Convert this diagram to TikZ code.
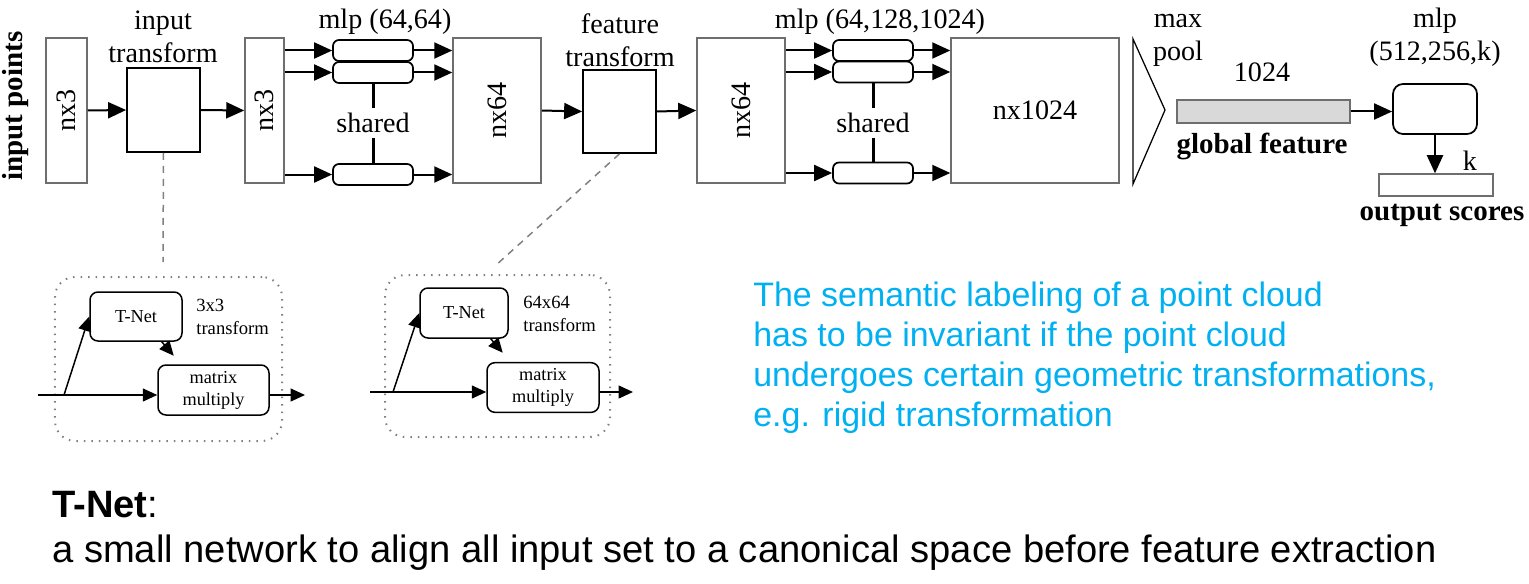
\documentclass[tikz,border=0pt]{standalone}
\usepackage{fontspec}
\setmainfont{Liberation Serif}
\newfontfamily\arialfont{Liberation Sans}
\usepackage{xcolor}
\usepackage{tikz}
\usetikzlibrary{arrows.meta, positioning, calc}

\definecolor{boxgray}{RGB}{110,110,110}
\definecolor{barfill}{RGB}{217,217,217}
\definecolor{noteblue}{RGB}{0,176,240}

\begin{document}
\begin{tikzpicture}[
    x=0.2mm, y=-0.2mm,
    lbl/.style={font=\fontsize{16}{18.8}\selectfont, align=center, inner sep=0.5mm},
    blbl/.style={font=\fontsize{16.5}{19}\selectfont\bfseries, inner sep=0.5mm},
    fbox/.style={draw=boxgray, line width=0.3mm, minimum height=29mm, inner sep=0, font=\fontsize{16}{19}\selectfont},
    tbox/.style={draw, line width=0.35mm, inner sep=0},
    rbox/.style={draw, rounded corners=1.2mm, line width=0.35mm, minimum width=16mm, minimum height=4.2mm},
    arr/.style={-{Triangle[length=3.6mm,width=3.2mm]}, line width=0.4mm},
    shline/.style={line width=0.6mm},
    dashline/.style={draw=gray, dash pattern=on 1.4mm off 1.2mm, line width=0.3mm},
    dotbox/.style={draw=gray, dash pattern=on 0.3mm off 1.2mm, line width=0.4mm, rounded corners=4mm},
    sbox/.style={draw, rounded corners=1.6mm, line width=0.3mm, align=center, font=\fontsize{10.4}{12.5}\selectfont},
    stxt/.style={align=left, inner sep=0, font=\fontsize{10.6}{13}\selectfont},
    sarr/.style={-{Triangle[length=2.9mm,width=2.6mm]}, line width=0.3mm},
    note/.style={text=noteblue, align=left, inner sep=0, font=\arialfont\fontsize{19.3}{22.8}\selectfont}
]
    \useasboundingbox (0,0) rectangle (1529,584);

    % main pipeline
    \node[blbl, rotate=90] (inpts) at (16,106) {input points};
    \node[fbox, minimum width=8.2mm] (in1) at (66.5,110.5) {\rotatebox{90}{nx3}};
    \node[tbox, minimum width=14.6mm, minimum height=16.8mm] (intf) at (163.5,110) {};
    \node[lbl] (intf-lbl) at (163,36.5) {input\\transform};
    \node[fbox, minimum width=7.8mm] (in2) at (264.5,110.5) {\rotatebox{90}{nx3}};
    \node[fbox, minimum width=17.6mm] (f64) at (497,110.5) {\rotatebox{90}{nx64}};
    \node[tbox, minimum width=14.6mm, minimum height=16.6mm] (fetr) at (619.5,111.5) {};
    \node[lbl] (fetr-lbl) at (620,40) {feature\\transform};
    \node[fbox, minimum width=17.6mm] (f64b) at (741,110.5) {\rotatebox{90}{nx64}};
    \node[fbox, minimum width=33.6mm] (f1024) at (1035,110.5) {nx1024};

    \draw[arr] (in1.east) -- (intf.west);
    \draw[arr] (intf.east) -- (in2.west);
    \draw[arr] (f64.east) -- (fetr.west);
    \draw[arr] (fetr.east) -- (f64b.west);

    % shared mlps
    \node[lbl] (mlpa-lbl) at (385,22) {mlp (64,64)};
    \foreach \i/\y in {1/50.5, 2/72.5, 3/174.5} {
        \node[rbox] (ma\i) at (373,\y) {};
        \draw[arr] (ma\i -| in2.east) -- (ma\i.west);
        \draw[arr] (ma\i.east) -- (ma\i -| f64.west);
    }
    \node[lbl, inner sep=1mm] (sha) at (373,123) {shared};
    \draw[shline] (ma2.south) -- (sha.north);
    \draw[shline] (sha.south) -- (ma3.north);

    \node[lbl] (mlpb-lbl) at (880,22) {mlp (64,128,1024)};
    \foreach \i/\y in {1/50.5, 2/72, 3/173} {
        \node[rbox] (mb\i) at (873,\y) {};
        \draw[arr] (mb\i -| f64b.east) -- (mb\i.west);
        \draw[arr] (mb\i.east) -- (mb\i -| f1024.west);
    }
    \node[lbl, inner sep=1mm] (shb) at (873,123) {shared};
    \draw[shline] (mb2.south) -- (shb.north);
    \draw[shline] (shb.south) -- (mb3.north);

    % max pool and classifier
    \coordinate (mpt) at (1133,39);
    \coordinate (mpa) at (1165,110);
    \coordinate (mpb) at (1133,184);
    \draw[line width=0.25mm] (mpt) -- (mpa) -- (mpb) -- cycle;
    \node[lbl] (mp-lbl) at (1178,40) {max\\pool};
    \node[draw=boxgray, fill=barfill, line width=0.3mm, minimum width=34.6mm, minimum height=4.6mm] (gfeat) at (1263.5,111.5) {};
    \node[lbl] (gdim) at (1262,72) {1024};
    \node[blbl] (gfeat-lbl) at (1262,146) {global feature};
    \node[tbox, rounded corners=2mm, minimum width=16.8mm, minimum height=10mm] (mlpc) at (1435,109) {};
    \node[lbl] (mlpc-lbl) at (1435,37.5) {mlp\\(512,256,k)};
    \node[draw=boxgray, line width=0.3mm, minimum width=22.8mm, minimum height=4.4mm] (out) at (1436,185) {};
    \node[lbl] (kdim) at (1470,161) {k};
    \node[blbl] (out-lbl) at (1442,215) {output scores};
    \draw[arr] (gfeat.east) -- (gfeat.east -| mlpc.west);
    \draw[arr] (mlpc.south) -- (mlpc.south |- out.north);

    % T-Net details
    \node[dotbox, minimum width=45.4mm, minimum height=32.8mm] (grpa) at (168.5,359) {};
    \node[sbox, minimum width=18.4mm, minimum height=9.8mm] (tneta) at (136,316.5) {T-Net};
    \node[stxt, anchor=west] (tfa) at (196,316.5) {3x3\\transform};
    \node[sbox, minimum width=22.2mm, minimum height=10mm] (mma) at (213.5,390) {matrix\\multiply};
    \coordinate (ina) at (38,395);
    \coordinate (bra) at (64,395);
    \coordinate (outa) at (305,395);
    \draw[sarr] (ina) -- (ina -| mma.west);
    \draw[sarr] (bra) -- (tneta.west);
    \draw[sarr] (tneta.south east) ++(-21,0) -- ++(12,14);
    \draw[sarr] (mma.east |- outa) -- (outa);

    \node[dotbox, minimum width=45mm, minimum height=32.4mm] (grpb) at (497.5,356) {};
    \node[sbox, minimum width=17.6mm, minimum height=10mm] (tnetb) at (464,313) {T-Net};
    \node[stxt, anchor=west] (tfb) at (523,314) {64x64\\transform};
    \node[sbox, minimum width=22.4mm, minimum height=9.8mm] (mmb) at (543,387.5) {matrix\\multiply};
    \coordinate (inb) at (370,392);
    \coordinate (brb) at (393,392);
    \coordinate (outb) at (633,392);
    \draw[sarr] (inb) -- (inb -| mmb.west);
    \draw[sarr] (brb) -- (tnetb.west);
    \draw[sarr] (tnetb.south east) ++(-18,0) -- ++(12,14);
    \draw[sarr] (mmb.east |- outb) -- (outb);

    \coordinate (dsta) at (163,262);
    \coordinate (dstb) at (495,266);
    \draw[dashline] (intf.south) -- (dsta);
    \draw[dashline] (fetr.south) -- (dstb);

    % notes
    \node[note, anchor=west] (note) at (753,358) {The semantic labeling of a point cloud\\has to be invariant if the point cloud\\undergoes certain geometric transformations,\\e.g. rigid transformation};
    \node[anchor=west, align=left, inner sep=0, font=\arialfont\fontsize{21.7}{25.6}\selectfont] (tnet-note) at (52,531) {\textbf{T-Net}:\\a small network to align all input set to a canonical space before feature extraction};
\end{tikzpicture}
\end{document}
